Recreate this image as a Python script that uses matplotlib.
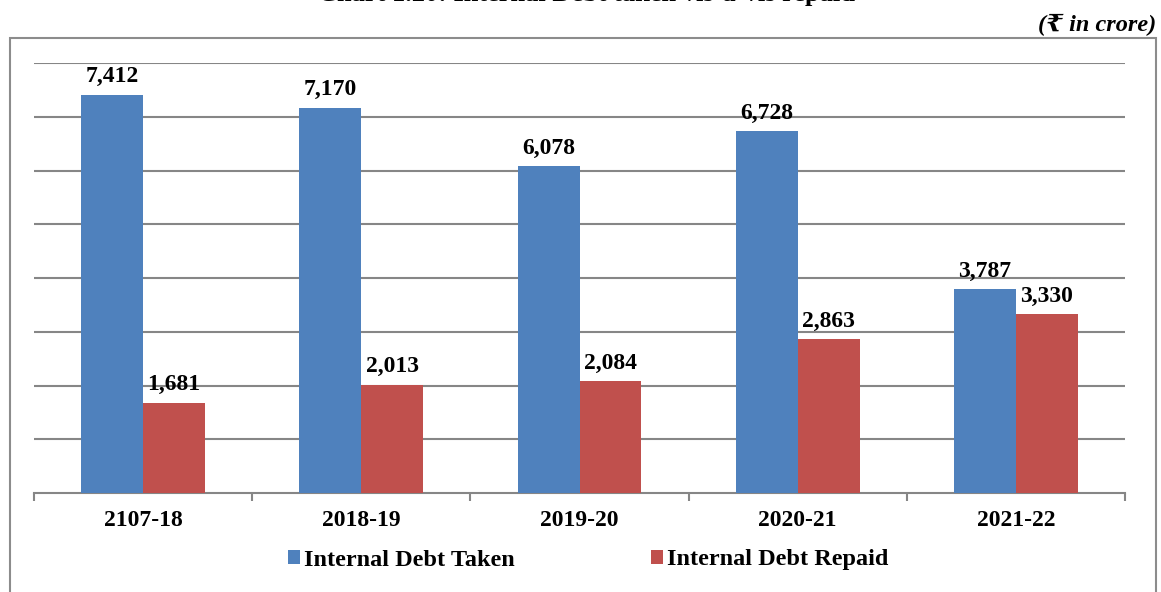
import matplotlib
matplotlib.use('Agg')
import matplotlib.pyplot as plt
import numpy as np
from matplotlib.patches import Rectangle

# data (₹ in crore)
years = ['2107-18', '2018-19', '2019-20', '2020-21', '2021-22']
debt_taken = [7412, 7170, 6078, 6728, 3787]
debt_repaid = [1681, 2013, 2084, 2863, 3330]
series_names = ['Internal Debt Taken', 'Internal Debt Repaid']

blue = '#4F81BD'
red = '#C0504D'
grid_col = '#868686'

plt.rcParams['font.family'] = ['Liberation Serif', 'DejaVu Serif', 'DejaVu Sans']
plt.rcParams['font.weight'] = 'bold'

W, H = 1161, 592
fig = plt.figure(figsize=(W / 100, H / 100), dpi=100)

# outer chart frame (bottom runs off the page)
fig.patches.append(Rectangle((10 / W, -0.05), (1156 - 10) / W, 1 - 38 / H + 0.05,
                             transform=fig.transFigure, fill=False,
                             edgecolor='#8c8c8c', linewidth=1.5))

# half-cut title at top and the unit note
fig.text(586 / W, 1 - 1.5 / H, 'Chart 1.20: Internal Debt taken vis-à-vis repaid',
         ha='center', va='baseline', fontsize=19, fontweight='bold')
fig.text(1156 / W, 1 - 25 / H, '(₹ in crore)', ha='right', va='center',
         fontsize=17.5, fontweight='bold', fontstyle='italic')

ax = fig.add_axes([34 / W, 1 - 493 / H, 1091 / W, (493 - 63) / H])

x = np.arange(len(years))
bw = 0.284
b1 = ax.bar(x - bw / 2, debt_taken, bw, color=blue, label=series_names[0], zorder=3)
b2 = ax.bar(x + bw / 2, debt_repaid, bw, color=red, label=series_names[1], zorder=3)

for bars in (b1, b2):
    for b in bars:
        ax.text(b.get_x() + b.get_width() / 2, b.get_height() + 230,
                f'{int(b.get_height()):,}', ha='center', va='baseline',
                fontsize=17, fontweight='bold')

ax.set_xlim(-0.5, len(years) - 0.5)
ax.set_ylim(0, 8000)
ax.set_yticks(np.arange(1000, 8001, 1000))
ax.yaxis.grid(True, color=grid_col, linewidth=1.5, zorder=0)
ax.tick_params(axis='y', length=0, labelleft=False)

ax.set_xticks(x)
ax.set_xticklabels(years, fontsize=17, fontweight='bold')
ax.set_xticks(np.arange(-0.5, len(years), 1), minor=True)
ax.tick_params(axis='x', which='major', length=0, pad=12)
ax.tick_params(axis='x', which='minor', length=6, width=1.5, color=grid_col, direction='out')

for s in ['top', 'right', 'left']:
    ax.spines[s].set_visible(False)
ax.spines['bottom'].set_color(grid_col)
ax.spines['bottom'].set_linewidth(1.5)

leg = fig.legend(handles=[b1, b2], loc='center', bbox_to_anchor=(588 / W, 1 - 560 / H),
                 ncol=2, frameon=False, handlelength=0.5, handleheight=0.5,
                 handletextpad=0.15, columnspacing=5.6,
                 prop={'weight': 'bold', 'size': 17.5})

fig.savefig('out.png', dpi=100)
plt.close()
